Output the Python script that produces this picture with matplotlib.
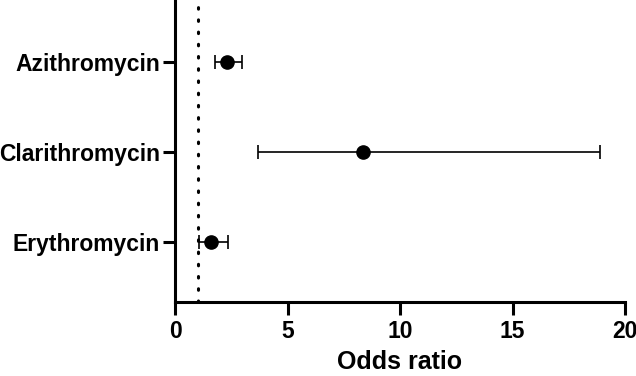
import matplotlib
matplotlib.use("Agg")
import matplotlib.pyplot as plt

drugs = ["Azithromycin", "Clarithromycin", "Erythromycin"]
odds = [2.30, 8.34, 1.59]
ci_low = [1.78, 3.70, 1.07]
ci_high = [2.99, 18.87, 2.37]
x_ticks = [0, 5, 10, 15, 20]

plt.rcParams['font.family'] = ['Liberation Sans', 'DejaVu Sans']

fig = plt.figure(figsize=(6.36, 3.76), dpi=100)
ax = fig.add_axes([175 / 636, 74.3 / 376, 450 / 636, 301.7 / 376])

ypos = [3, 2, 1]
err = [[o - l for o, l in zip(odds, ci_low)], [h - o for o, h in zip(odds, ci_high)]]
ax.axvline(1, color="black", lw=2.2, linestyle=(0, (0.5, 3.5)), dash_capstyle="round", zorder=1)
ax.errorbar(odds, ypos, xerr=err, fmt="o", color="black", ms=9.5, elinewidth=1.2,
            capsize=5, capthick=1.2, zorder=3)

ax.set_xlim(0, 20)
ax.set_ylim(0.33, 3.69)
ax.set_xticks(x_ticks)
ax.set_yticks(ypos)
ax.set_yticklabels(drugs, fontsize=16.5, fontweight="bold")
ax.set_xticklabels([str(t) for t in x_ticks], fontsize=16.5, fontweight="bold")
ax.set_xlabel("Odds ratio", fontsize=18, fontweight="bold", labelpad=5)

for side in ["top", "right"]:
    ax.spines[side].set_visible(False)
for side in ["left", "bottom"]:
    ax.spines[side].set_linewidth(2.2)
ax.tick_params(axis="both", width=2.2, length=9, pad=2)
ax.tick_params(axis="x", pad=4)

fig.savefig("out.png", dpi=100)
